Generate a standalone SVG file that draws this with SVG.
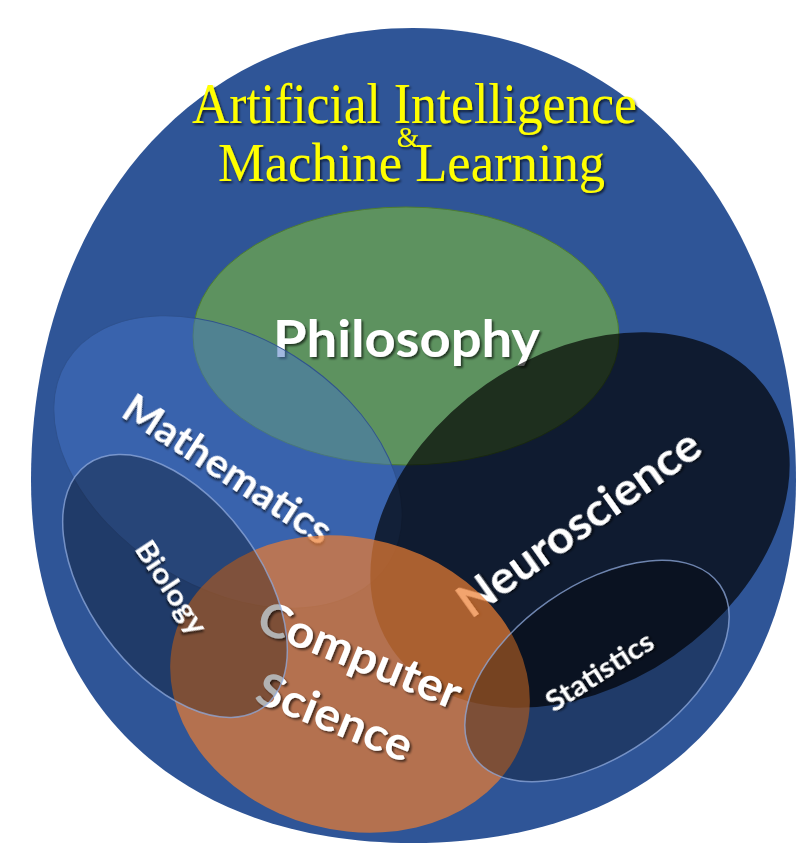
<svg xmlns="http://www.w3.org/2000/svg" width="800" height="853" viewBox="0 0 800 853">
  <defs>
    <filter id="ts" x="-20%" y="-40%" width="140%" height="180%">
      <feDropShadow dx="2" dy="2" stdDeviation="1.3" flood-color="#000" flood-opacity="0.6"/>
    </filter>
    <filter id="tt" x="-10%" y="-40%" width="120%" height="180%">
      <feDropShadow dx="1.5" dy="2" stdDeviation="1.2" flood-color="#000" flood-opacity="0.65"/>
    </filter>
  </defs>
  <style>
    .title { font-family: "Liberation Serif", "DejaVu Serif", serif; fill: #FFFF00; text-anchor: middle; }
    .lbl { font-family: Lato, "Open Sans", "Liberation Sans", sans-serif; font-weight: bold; fill: #FFFFFF; text-anchor: middle; }
    .overlay { fill: #000000; fill-opacity: 0.3; stroke: #8FAADC; stroke-width: 1.5; stroke-opacity: 0.75; }
  </style>
  <rect width="800" height="853" fill="#FFFFFF"/>

  <g id="ai-ml">
    <path d="M413,28 C640,28 796,225 796,480 C796,700 650,843 413,843 C176,843 31,700 31,480 C31,225 186,28 413,28 Z" fill="#2F5597"/>
    <g filter="url(#tt)">
      <text class="title" x="414.5" y="123" font-size="57" textLength="445" lengthAdjust="spacingAndGlyphs">Artificial Intelligence</text>
      <text class="title" x="408" y="147" font-size="29">&amp;</text>
      <text class="title" x="411.5" y="181" font-size="54" textLength="387" lengthAdjust="spacingAndGlyphs">Machine Learning</text>
    </g>
  </g>

  <g id="philosophy">
    <ellipse cx="406" cy="336" rx="213" ry="129" fill="#70AD47" fill-opacity="0.7" stroke="#4E7D30" stroke-width="1"/>
    <text class="lbl" x="406.5" y="357" font-size="51" textLength="267" lengthAdjust="spacingAndGlyphs" filter="url(#ts)">Philosophy</text>
  </g>

  <g id="mathematics">
    <ellipse cx="0" cy="0" rx="190" ry="125" transform="translate(228,462) rotate(32)" fill="#4472C4" fill-opacity="0.5" stroke="#2F528F" stroke-width="1"/>
    <text class="lbl" transform="translate(220,481) rotate(33)" x="0" y="0" font-size="40" textLength="240" lengthAdjust="spacingAndGlyphs" filter="url(#ts)">Mathematics</text>
  </g>

  <g id="neuroscience">
    <ellipse cx="0" cy="0" rx="228" ry="165" transform="translate(580,520) rotate(-34.7)" fill="#000000" fill-opacity="0.68"/>
    <text class="lbl" transform="translate(588,536) rotate(-35.5)" x="0" y="0" font-size="46" textLength="287" lengthAdjust="spacingAndGlyphs" filter="url(#ts)">Neuroscience</text>
  </g>

  <g id="computer-science">
    <ellipse cx="0" cy="0" rx="182" ry="146" transform="translate(350,684) rotate(15)" fill="#ED7D31" fill-opacity="0.7"/>
    <g filter="url(#ts)">
      <text class="lbl" transform="translate(354,670) rotate(22)" x="0" y="0" font-size="46" textLength="215" lengthAdjust="spacingAndGlyphs">Computer</text>
      <text class="lbl" transform="translate(329,732) rotate(22)" x="0" y="0" font-size="46" textLength="164" lengthAdjust="spacingAndGlyphs">Science</text>
    </g>
  </g>

  <g id="biology">
    <ellipse class="overlay" cx="0" cy="0" rx="150" ry="86" transform="translate(175,586) rotate(54)"/>
    <text class="lbl" transform="translate(163,593) rotate(56.5)" x="0" y="0" font-size="29" textLength="106" lengthAdjust="spacingAndGlyphs" filter="url(#ts)">Biology</text>
  </g>

  <g id="statistics">
    <ellipse class="overlay" cx="0" cy="0" rx="150" ry="85" transform="translate(597,671) rotate(-35)"/>
    <text class="lbl" transform="translate(605,680) rotate(-32.7)" x="0" y="0" font-size="29" textLength="122" lengthAdjust="spacingAndGlyphs" filter="url(#ts)">Statistics</text>
  </g>

  <g id="connectors"/>
</svg>
